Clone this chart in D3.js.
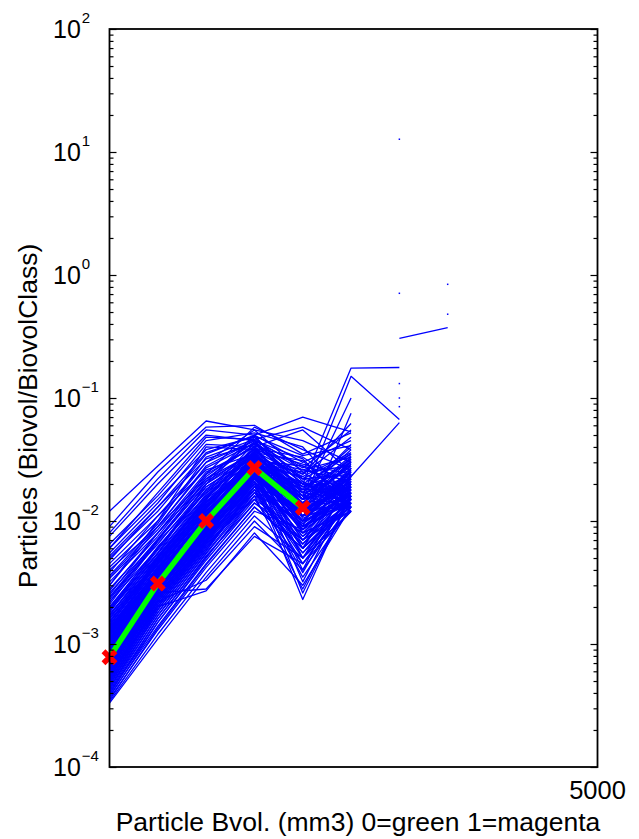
<!DOCTYPE html>
<html><head><meta charset="utf-8">
<script src="https://cdn.jsdelivr.net/npm/d3@7"></script>
<style>
body{margin:0;background:#fff}
svg{display:block}
text{font-family:"Liberation Sans",Arial,Helvetica,sans-serif;fill:#000}
</style>
</head><body>
<svg id="chart" width="639" height="839"></svg>
<script>
// ---------------- data ----------------
const xValues = [0, 495, 990, 1485, 1980, 2475, 2970, 3465];

// individual particle-class profiles (blue)
const profiles = [
  [1.2e-2, 2.8e-2, 6.5e-2, 5.5e-2, 4.5e-2, 3.0e-2],
  [9e-3, 2.5e-2, 5.8e-2, 6.0e-2, 3.5e-2, 5.2e-2],
  [8e-3, 2.2e-2, 5.5e-2, 5.0e-2, 7.0e-2, 5.3e-2],
  [7.5e-3, 2.0e-2, 5.0e-2, 4.5e-2, 2.8e-2, 2.2e-2],
  [6.5e-3, 1.6e-2, 4.5e-2, 5.2e-2, 4.0e-2, 1.5e-2],
  [6e-3, 1.7e-2, 4.8e-2, 4.6e-2, 5.8e-2, 3.8e-2],
  [6e-3, 1.5e-2, 3.8e-2, 4.8e-2, 2.2e-2, 3.5e-2],
  [5.5e-3, 1.4e-2, 4.2e-2, 4.0e-2, 5.5e-2, 2.5e-2],
  [5.2e-3, 1.3e-2, 3.6e-2, 4.9e-2, 3.4e-2, 4.1e-2],
  [5e-3, 1.2e-2, 3.5e-2, 5.0e-2, 3.0e-2, 4.5e-2],
  [4.8e-3, 1.3e-2, 3.2e-2, 4.2e-2, 2.0e-2, 1.8e-2],
  [4.5e-3, 1.1e-2, 3.0e-2, 5.5e-2, 2.5e-2, 2.8e-2],
  [4.2e-3, 1.0e-2, 4.0e-2, 3.8e-2, 1.8e-2, 4.0e-2],
  [4e-3, 9e-3, 2.8e-2, 4.5e-2, 3.2e-2, 1.3e-2],
  [3.8e-3, 1.1e-2, 2.6e-2, 3.5e-2, 1.5e-2, 2.0e-2],
  [3.6e-3, 9.5e-3, 3.3e-2, 4.6e-2, 2.7e-2, 5.5e-2],
  [3.5e-3, 9e-3, 2.7e-2, 4.3e-2, 2.6e-2, 3.3e-2],
  [3.4e-3, 8.5e-3, 2.5e-2, 4.0e-2, 2.2e-2, 1.7e-2],
  [3.2e-3, 8e-3, 2.4e-2, 5.8e-2, 3.8e-2, 2.6e-2],
  [3.0e-3, 9e-3, 2.2e-2, 3.6e-2, 1.6e-2, 3.2e-2],
  [3e-3, 1.0e-2, 3.0e-2, 4.5e-2, 2.0e-2, 1.75e-1, 1.77e-1],
  [2.8e-3, 7.5e-3, 2.3e-2, 4.4e-2, 2.0e-2, 1.4e-2],
  [2.7e-3, 8e-3, 2.4e-2, 4.0e-2, 1.5e-2, 1.8e-2],
  [2.6e-3, 7e-3, 2.0e-2, 3.8e-2, 2.9e-2, 2.4e-2],
  [2.5e-3, 8e-3, 2.1e-2, 5.0e-2, 1.7e-2, 3.8e-2],
  [2.4e-3, 6.5e-3, 1.9e-2, 3.3e-2, 1.4e-2, 1.6e-2],
  [2.4e-3, 7.2e-3, 2.1e-2, 3.6e-2, 1.9e-2, 2.2e-2],
  [2.3e-3, 7e-3, 2.2e-2, 4.2e-2, 2.4e-2, 4.8e-2],
  [2.2e-3, 6e-3, 1.8e-2, 3.9e-2, 3.3e-2, 1.9e-2],
  [2.2e-3, 7e-3, 2.0e-2, 3.5e-2, 1.6e-2, 1.5e-1, 6.7e-2],
  [2.1e-3, 6.8e-3, 1.7e-2, 3.0e-2, 1.2e-2, 2.3e-2],
  [2.0e-3, 5.5e-3, 2.0e-2, 4.8e-2, 2.1e-2, 1.2e-2],
  [2e-3, 6e-3, 1.8e-2, 3.3e-2, 2.4e-2, 6.2e-2],
  [1.95e-3, 6.2e-3, 1.6e-2, 3.7e-2, 1.9e-2, 3.0e-2],
  [1.9e-3, 5.8e-3, 1.75e-2, 3.2e-2, 2.6e-2, 2.1e-2],
  [1.9e-3, 5.4e-3, 1.6e-2, 3.5e-2, 1.7e-2, 2.0e-2],
  [1.85e-3, 5.2e-3, 1.5e-2, 4.1e-2, 1.3e-2, 1.5e-2],
  [1.8e-3, 6e-3, 1.9e-2, 3.4e-2, 1.1e-2, 2.7e-2],
  [1.75e-3, 5e-3, 1.45e-2, 2.9e-2, 2.3e-2, 3.6e-2],
  [1.7e-3, 5.5e-3, 1.65e-2, 4.3e-2, 1.8e-2, 1.8e-2],
  [1.7e-3, 5.1e-3, 1.55e-2, 3.2e-2, 1.4e-2, 2.8e-2],
  [1.65e-3, 4.8e-3, 1.4e-2, 3.1e-2, 1.5e-2, 2.2e-2],
  [1.6e-3, 5.2e-3, 1.55e-2, 3.6e-2, 3.1e-2, 1.3e-2],
  [1.6e-3, 4.7e-3, 1.4e-2, 3.7e-2, 2.3e-2, 1.5e-2],
  [1.55e-3, 4.6e-3, 1.35e-2, 2.8e-2, 1.0e-2, 2.5e-2],
  [1.5e-3, 5e-3, 1.5e-2, 3.9e-2, 1.6e-2, 3.4e-2],
  [1.5e-3, 5e-3, 1.5e-2, 3.0e-2, 1.2e-2, 2.3e-2, 6.3e-2],
  [1.5e-3, 4.5e-3, 1.42e-2, 3.1e-2, 1.3e-2, 3.0e-2],
  [1.45e-3, 4.4e-3, 1.3e-2, 3.3e-2, 2.0e-2, 1.6e-2],
  [1.42e-3, 4.6e-3, 1.35e-2, 2.9e-2, 1.8e-2, 2.2e-2],
  [1.4e-3, 4.9e-3, 1.45e-2, 2.7e-2, 8.5e-3, 1.9e-2],
  [1.38e-3, 4.2e-3, 1.25e-2, 3.5e-2, 1.4e-2, 2.9e-2],
  [1.35e-3, 4.5e-3, 1.4e-2, 3.0e-2, 2.5e-2, 1.4e-2],
  [1.33e-3, 4.2e-3, 1.28e-2, 3.4e-2, 1.05e-2, 1.6e-2],
  [1.3e-3, 4e-3, 1.2e-2, 2.6e-2, 1.1e-2, 2.0e-2],
  [1.3e-3, 4.5e-3, 1.3e-2, 2.9e-2, 9e-3, 7.5e-2],
  [1.28e-3, 4.3e-3, 1.32e-2, 3.8e-2, 1.7e-2, 4.2e-2],
  [1.27e-3, 4.0e-3, 1.22e-2, 2.7e-2, 2.0e-2, 3.5e-2],
  [1.25e-3, 3.9e-3, 1.15e-2, 2.9e-2, 9e-3, 1.5e-2],
  [1.22e-3, 4.1e-3, 1.25e-2, 3.2e-2, 2.2e-2, 2.4e-2],
  [1.2e-3, 3.8e-3, 1.1e-2, 2.5e-2, 7e-3, 1.7e-2],
  [1.2e-3, 4.1e-3, 1.18e-2, 3.1e-2, 1.25e-2, 1.9e-2],
  [1.18e-3, 4e-3, 1.2e-2, 3.4e-2, 1.3e-2, 3.1e-2],
  [1.16e-3, 3.8e-3, 1.12e-2, 2.6e-2, 8.5e-3, 2.4e-2],
  [1.15e-3, 3.7e-3, 1.15e-2, 2.8e-2, 1.9e-2, 1.2e-2],
  [1.12e-3, 3.6e-3, 1.1e-2, 3.0e-2, 1.2e-2, 2.1e-2],
  [1.1e-3, 3.9e-3, 1.05e-2, 2.4e-2, 1.0e-2, 2.6e-2],
  [1.1e-3, 3.6e-3, 1.08e-2, 3.2e-2, 1.6e-2, 1.3e-2],
  [1.08e-3, 3.5e-3, 1.12e-2, 3.1e-2, 2.8e-2, 1.6e-2],
  [1.06e-3, 3.7e-3, 1.05e-2, 2.8e-2, 1.9e-2, 2.6e-2],
  [1.05e-3, 3.4e-3, 1.0e-2, 2.7e-2, 8e-3, 1.8e-2],
  [1.03e-3, 3.7e-3, 1.08e-2, 3.5e-2, 1.5e-2, 3.3e-2],
  [1.02e-3, 3.4e-3, 1.02e-2, 2.5e-2, 1.1e-2, 1.7e-2],
  [1.0e-3, 3.3e-3, 9.8e-3, 2.6e-2, 1.2e-2, 1.4e-2],
  [1.0e-3, 3.5e-3, 1.1e-2, 2.8e-2, 1.5e-2, 1.0e-1],
  [9.9e-4, 3.3e-3, 9.9e-3, 3.0e-2, 1.4e-2, 3.2e-2],
  [9.8e-4, 3.5e-3, 1.02e-2, 2.9e-2, 6e-3, 2.3e-2],
  [9.6e-4, 3.2e-3, 9.5e-3, 2.3e-2, 1.6e-2, 1.9e-2],
  [9.5e-4, 3.3e-3, 9.6e-3, 2.7e-2, 7e-3, 2.0e-2],
  [9.4e-4, 3.4e-3, 1.0e-2, 3.3e-2, 1.1e-2, 2.7e-2],
  [9.2e-4, 3.1e-3, 9.2e-3, 2.5e-2, 2.1e-2, 1.3e-2],
  [9.1e-4, 3.2e-3, 9.5e-3, 2.4e-2, 1.7e-2, 1.5e-2],
  [9.0e-4, 3.3e-3, 9.8e-3, 2.8e-2, 9.5e-3, 1.7e-2],
  [8.9e-4, 3.1e-3, 9.3e-3, 2.9e-2, 1.0e-2, 2.3e-2],
  [8.8e-4, 3.0e-3, 9e-3, 2.2e-2, 1.3e-2, 2.2e-2],
  [8.6e-4, 3.2e-3, 9.6e-3, 3.0e-2, 5e-3, 1.5e-2],
  [8.5e-4, 3.0e-3, 9.1e-3, 2.6e-2, 1.3e-2, 1.8e-2],
  [8.4e-4, 2.9e-3, 8.8e-3, 2.4e-2, 1.4e-2, 3.0e-2],
  [8.3e-4, 2.9e-3, 8.9e-3, 2.3e-2, 6e-3, 2.7e-2],
  [8.2e-4, 3.1e-3, 9.4e-3, 2.6e-2, 1.8e-2, 1.8e-2],
  [8.1e-4, 3.0e-3, 9.0e-3, 2.7e-2, 2.0e-2, 1.4e-2],
  [8.0e-4, 2.8e-3, 8.5e-3, 2.1e-2, 7.5e-3, 2.0e-2],
  [7.9e-4, 3.0e-3, 9.2e-3, 2.9e-2, 1.2e-2, 1.3e-2],
  [7.8e-4, 2.9e-3, 9e-3, 2.5e-2, 4e-3, 2.4e-2],
  [7.7e-4, 2.8e-3, 8.6e-3, 2.4e-2, 1.1e-2, 2.1e-2],
  [7.6e-4, 2.7e-3, 8.2e-3, 2.3e-2, 1.0e-2, 1.6e-2],
  [7.5e-4, 2.8e-3, 8.3e-3, 2.8e-2, 9e-3, 1.7e-2],
  [7.4e-4, 2.9e-3, 8.8e-3, 2.7e-2, 1.5e-2, 2.8e-2],
  [7.3e-4, 2.7e-3, 8.1e-3, 2.2e-2, 1.4e-2, 2.5e-2],
  [7.2e-4, 2.6e-3, 8e-3, 2.0e-2, 9e-3, 1.4e-2],
  [7.1e-4, 2.7e-3, 8.3e-3, 2.5e-2, 5e-3, 1.6e-2],
  [7.0e-4, 2.8e-3, 8.6e-3, 2.6e-2, 3.2e-3, 1.9e-2],
  [7e-4, 2.2e-3, 3.3e-3, 9e-3, 5e-3, 1.2e-2],
  [6.9e-4, 2.5e-3, 7.8e-3, 2.2e-2, 1.1e-2, 2.1e-2],
  [6.8e-4, 2.7e-3, 8.4e-3, 2.4e-2, 6.5e-3, 1.5e-2],
  [6.7e-4, 2.5e-3, 7.9e-3, 2.3e-2, 1.2e-2, 1.9e-2],
  [6.6e-4, 2.4e-3, 7.5e-3, 1.9e-2, 1.3e-2, 2.5e-2],
  [6.5e-4, 2.6e-3, 8.2e-3, 2.8e-2, 8e-3, 1.2e-2],
  [6.5e-4, 2.6e-3, 2.8e-3, 7.5e-3, 4.5e-3, 1.5e-2],
  [6.4e-4, 2.5e-3, 7.6e-3, 2.1e-2, 8.5e-3, 2.2e-2],
  [6.3e-4, 2.3e-3, 7.2e-3, 2.1e-2, 2.3e-3, 1.7e-2],
  [6.2e-4, 2.5e-3, 7.8e-3, 2.3e-2, 1.0e-2, 2.2e-2],
  [6.1e-4, 2.4e-3, 7.4e-3, 2.4e-2, 1.0e-2, 1.5e-2],
  [6.0e-4, 2.2e-3, 7e-3, 1.8e-2, 5.5e-3, 1.4e-2],
  [5.9e-4, 2.3e-3, 7.1e-3, 2.0e-2, 3.8e-3, 1.8e-2],
  [5.8e-4, 2.4e-3, 7.5e-3, 2.2e-2, 1.2e-2, 2.0e-2],
  [5.7e-4, 2.2e-3, 6.9e-3, 1.9e-2, 1.3e-2, 2.4e-2],
  [5.6e-4, 2.1e-3, 6.8e-3, 1.7e-2, 7e-3, 1.3e-2],
  [5.5e-4, 2.3e-3, 7.2e-3, 2.4e-2, 2.6e-3, 1.6e-2],
  [5.5e-4, 2.0e-3, 2.7e-3, 8e-3, 3e-3, 1.3e-2],
  [5.4e-4, 2.1e-3, 6.6e-3, 2.2e-2, 7.5e-3, 1.4e-2],
  [5.3e-4, 2.0e-3, 6.5e-3, 1.9e-2, 9e-3, 1.8e-2],
  [5.2e-4, 2.2e-3, 7e-3, 2.0e-2, 4.5e-3, 1.2e-2],
  [5.1e-4, 2.0e-3, 6.3e-3, 1.8e-2, 9.5e-3, 2.0e-2],
  [5.0e-4, 1.9e-3, 6.2e-3, 1.6e-2, 1.1e-2, 2.3e-2],
  [4.9e-4, 2.1e-3, 6.8e-3, 2.1e-2, 6e-3, 1.5e-2],
  [4.8e-4, 1.9e-3, 6.0e-3, 1.7e-2, 5.5e-3, 1.6e-2],
  [4.7e-4, 1.8e-3, 5.8e-3, 1.8e-2, 3.5e-3, 1.3e-2],
  [4.6e-4, 2.0e-3, 6.5e-3, 1.5e-2, 8e-3, 1.9e-2],
  [4.5e-4, 1.8e-3, 5.7e-3, 1.9e-2, 1.1e-2, 1.3e-2],
  [4.4e-4, 1.7e-3, 5.5e-3, 1.7e-2, 1.0e-2, 1.4e-2],
  [4.3e-4, 1.9e-3, 6.0e-3, 1.9e-2, 5e-3, 2.1e-2],
  [4.2e-4, 1.7e-3, 5.4e-3, 1.6e-2, 6.5e-3, 1.7e-2],
  [4.1e-4, 1.6e-3, 5.2e-3, 1.4e-2, 7e-3, 1.2e-2],
  [4.0e-4, 1.5e-3, 5.0e-3, 1.6e-2, 2.8e-3, 1.6e-2],
  [3.9e-4, 1.6e-3, 5.1e-3, 1.5e-2, 4.5e-3, 1.5e-2],
  [3.8e-4, 1.4e-3, 4.5e-3, 1.3e-2, 6e-3, 1.3e-2],
  [3.7e-4, 1.5e-3, 4.8e-3, 1.4e-2, 8e-3, 1.2e-2],
  [3.6e-4, 1.3e-3, 4.2e-3, 1.2e-2, 8.5e-3, 1.5e-2],
  [3.5e-4, 1.35e-3, 4.4e-3, 1.3e-2, 6e-3, 1.4e-2],
  [3.4e-4, 1.2e-3, 3.8e-3, 1.1e-2, 5e-3, 1.2e-2],
  [3.3e-4, 1.1e-3, 3.5e-3, 1.0e-2, 4e-3, 1.4e-2]
];

// profiles that only have values in the largest classes
const sparseProfiles = [
  [null, null, null, null, null, null, 12.7],
  [null, null, null, null, null, null, 0.71],
  [null, null, null, null, null, null, 0.131],
  [null, null, null, null, null, null, 0.1],
  [null, null, null, null, null, null, 0.085],
  [null, null, null, null, null, null, 0.305, 0.374],
  [null, null, null, null, null, null, null, 0.84],
  [null, null, null, null, null, null, null, 0.48]
];

// mean profile (green line, red markers)
const meanProfile = [7.8e-4, 3.1e-3, 1.0e-2, 2.7e-2, 1.28e-2];

const yTickExponents = [-4, -3, -2, -1, 0, 1, 2];
const xTickValues = [5000];
const xAxisLabel = "Particle Bvol. (mm3) 0=green 1=magenta";
const yAxisLabel = "Particles (Biovol/BiovolClass)";

// ---------------- drawing ----------------
const svg = d3.select("#chart");
const L = 109.5, R = 597.5, T = 29, B = 767;

const x = d3.scaleLinear().domain([0, 5000]).range([L, R]);
const y = d3.scaleLog().domain([1e-4, 1e2]).range([B, T]);

svg.append("defs").append("clipPath").attr("id", "clip")
  .append("rect").attr("x", L).attr("y", T).attr("width", R - L).attr("height", B - T);

const plot = svg.append("g").attr("clip-path", "url(#clip)");

const line = d3.line()
  .defined(d => d != null)
  .x((d, i) => x(xValues[i]))
  .y(d => y(d));

const allProfiles = profiles.concat(sparseProfiles);

plot.append("g").selectAll("path")
  .data(allProfiles)
  .join("path")
  .attr("d", line)
  .attr("fill", "none")
  .attr("stroke", "#0000ff")
  .attr("stroke-width", 1.3)
  .attr("stroke-linejoin", "round");

// isolated samples (no defined neighbours) show as dots
const isolated = [];
allProfiles.forEach(row => {
  row.forEach((v, i) => {
    if (v == null) return;
    const prev = i > 0 ? row[i - 1] : null;
    const next = i < row.length - 1 ? row[i + 1] : null;
    if (prev == null && next == null) isolated.push({xv: xValues[i], v});
  });
});
plot.append("g").selectAll("rect")
  .data(isolated)
  .join("rect")
  .attr("x", d => x(d.xv) - 0.75)
  .attr("y", d => y(d.v) - 0.75)
  .attr("width", 1.5).attr("height", 1.5)
  .attr("fill", "#0000ff");

// mean profile
plot.append("path")
  .datum(meanProfile)
  .attr("d", line)
  .attr("fill", "none")
  .attr("stroke", "#00ff00")
  .attr("stroke-width", 5.5);

const s = 6;
svg.append("g").selectAll("path")
  .data(meanProfile)
  .join("path")
  .attr("transform", (d, i) => `translate(${x(xValues[i])},${y(d)})`)
  .attr("d", `M${-s},${-s}L${s},${s}M${-s},${s}L${s},${-s}`)
  .attr("stroke", "#ff0000")
  .attr("stroke-width", 5.5)
  .attr("fill", "none");

// axes: ticks
const majors = yTickExponents.map(e => Math.pow(10, e));
const minors = [];
for (let e = -4; e < 2; e++) for (let k = 2; k <= 9; k++) minors.push(k * Math.pow(10, e));

function styleAxis(g) {
  g.select(".domain").remove();
  g.selectAll(".tick line").attr("stroke", "#000").attr("stroke-width", 1.2);
  g.selectAll(".tick text").remove();
}
svg.append("g").attr("transform", `translate(${L},0)`)
  .call(d3.axisLeft(y).tickValues(minors).tickSize(-4)).call(styleAxis);
svg.append("g").attr("transform", `translate(${L},0)`)
  .call(d3.axisLeft(y).tickValues(majors).tickSize(-7)).call(styleAxis);
svg.append("g").attr("transform", `translate(${R},0)`)
  .call(d3.axisRight(y).tickValues(minors).tickSize(-4)).call(styleAxis);
svg.append("g").attr("transform", `translate(${R},0)`)
  .call(d3.axisRight(y).tickValues(majors).tickSize(-7)).call(styleAxis);

// box
svg.append("rect")
  .attr("x", L).attr("y", T).attr("width", R - L).attr("height", B - T)
  .attr("fill", "none").attr("stroke", "#000").attr("stroke-width", 1.8);

// y tick labels 10^n
const yl = svg.append("g").selectAll("text")
  .data(yTickExponents)
  .join("text")
  .attr("x", 53)
  .attr("y", d => y(Math.pow(10, d)) + 9)
  .attr("font-size", 25);
yl.append("tspan").text("10");
yl.append("tspan").attr("dx", 1).attr("dy", -15).attr("font-size", 15)
  .text(d => (d < 0 ? "\u2212" + Math.abs(d) : String(d)));

// x tick label
svg.append("g").selectAll("text")
  .data(xTickValues)
  .join("text")
  .attr("x", d => x(d))
  .attr("y", 799)
  .attr("text-anchor", "middle")
  .attr("font-size", 25.5)
  .text(d => d);

// axis titles
svg.append("text")
  .attr("x", 358).attr("y", 831)
  .attr("text-anchor", "middle")
  .attr("font-size", 26.5)
  .text(xAxisLabel);

svg.append("text")
  .attr("transform", "translate(37,416) rotate(-90)")
  .attr("text-anchor", "middle")
  .attr("font-size", 26.5)
  .text(yAxisLabel);
</script>
</body></html>
